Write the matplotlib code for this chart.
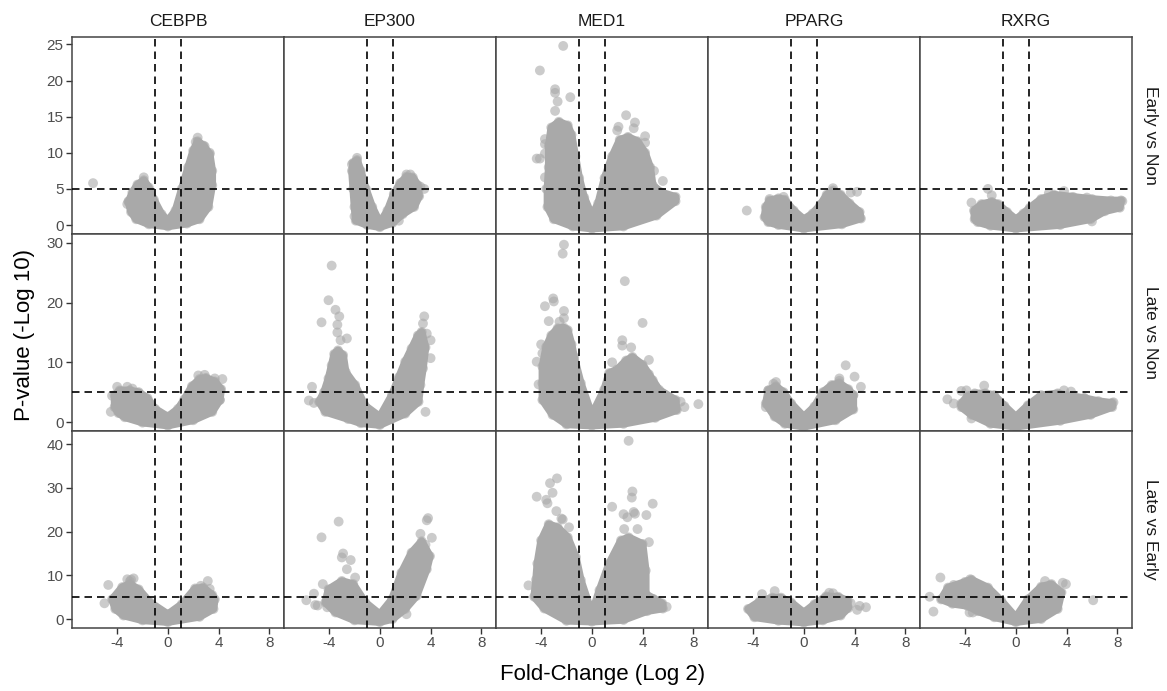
import matplotlib
matplotlib.use("Agg")
import matplotlib.pyplot as plt

plt.rcParams['font.family'] = ['Liberation Sans', 'DejaVu Sans']

genes = ['CEBPB', 'EP300', 'MED1', 'PPARG', 'RXRG']
contrasts = ['Early vs Non', 'Late vs Non', 'Late vs Early']
y_ticks = [[0, 5, 10, 15, 20, 25], [0, 10, 20, 30], [0, 10, 20, 30, 40]]
y_limits = [(-1.24, 26.04), (-1.5, 31.5), (-2.05, 43.05)]
x_ticks = [-4, 0, 4, 8]
fc_cut = 1
p_cut = 5

# dense part of each cloud (outline) + the loose points
# ---- Early vs Non
cebpb_early_cloud_x = [-2.9, -3.1, -2.8, -2.4, -1.9, -1.5, -1.1, -0.5, 0.0, 0.6, 1.1, 1.6, 2.0, 2.35, 2.8, 3.3, 3.5, 3.5, 3.2, 2.5, 1.5, 0.0, -1.5, -2.5]
cebpb_early_cloud_y = [1.8, 3.2, 4.5, 5.6, 6.2, 5.2, 3.5, 1.5, 0.6, 2.0, 5.0, 8.0, 10.3, 11.6, 11.0, 9.8, 7.5, 5.5, 2.5, 0.8, 0.2, -0.2, 0.1, 0.8]
cebpb_early_pts_x = [-5.9, 2.35, 2.6, 2.9, 3.3, -1.9, -3.1, -3.2, 2.2]
cebpb_early_pts_y = [5.8, 12.1, 11.0, 10.9, 10.0, 6.6, 3.3, 2.9, 11.5]

ep300_early_cloud_x = [-1.9, -2.0, -2.1, -2.2, -2.1, -1.8, -1.5, -1.1, -0.6, 0.0, 0.6, 1.1, 1.6, 2.1, 2.6, 3.0, 3.1, 2.7, 1.8, 1.0, 0.0, -1.0]
ep300_early_cloud_y = [0.6, 2.5, 5.0, 7.5, 8.6, 9.0, 7.5, 5.0, 2.5, 0.3, 2.0, 4.3, 5.8, 6.7, 6.6, 5.5, 4.0, 2.5, 1.5, 0.3, -0.3, 0.0]
ep300_early_pts_x = [-1.8, -2.2, 3.5, 1.5, 2.4, 2.1, -2.0, 3.2]
ep300_early_pts_y = [9.3, 8.4, 5.0, 0.6, 7.0, 7.0, 1.2, 5.3]

med1_early_cloud_x = [-3.0, -3.5, -3.5, -3.4, -3.4, -3.2, -2.6, -1.9, -1.6, -1.3, -1.0, -0.6, 0.0, 0.5, 1.0, 1.6, 2.2, 2.85, 3.6, 4.2, 4.6, 4.8, 5.5, 6.6, 6.6, 5.1, 2.5, 0.0, -1.5]
med1_early_cloud_y = [0.8, 2.5, 5.0, 8.0, 11.0, 13.5, 14.3, 13.8, 12.5, 9.5, 6.5, 3.8, 1.3, 3.0, 6.5, 9.5, 11.8, 12.2, 11.6, 10.0, 8.0, 5.5, 4.5, 3.9, 3.3, 1.3, -0.2, -0.5, -0.2]
med1_early_pts_x = [-2.26, -4.1, -2.9, -2.9, -2.7, -1.7, -2.9, -3.7, -3.7, -4.35, -4.1, -3.7, -3.7, -3.6, -2.9, 2.7, 3.4, 3.3, 2.0, 2.1, 4.2, 4.2, 5.6, 4.9, -3.0]
med1_early_pts_y = [24.8, 21.4, 18.8, 18.3, 17.1, 17.7, 15.8, 11.9, 11.2, 9.2, 9.2, 9.9, 6.6, 5.0, 1.8, 15.2, 14.2, 13.4, 13.1, 13.6, 12.3, 11.4, 6.1, 7.5, 12.5]

pparg_early_cloud_x = [-3.1, -3.0, -2.7, -2.0, -1.5, -0.8, 0.0, 0.7, 1.3, 1.8, 2.3, 2.9, 3.6, 4.4, 4.5, 3.0, 0.0, -2.0, -2.8]
pparg_early_cloud_y = [1.1, 2.5, 3.4, 3.7, 3.5, 2.0, 0.8, 1.6, 2.8, 4.2, 4.8, 4.2, 3.0, 1.8, 0.9, 0.1, -0.5, 0.0, 0.4]
pparg_early_pts_x = [-4.5, 2.3, 3.7, 4.2, -2.7, -1.6]
pparg_early_pts_y = [2.0, 5.1, 4.5, 4.6, 3.6, 3.9]

rxrg_early_cloud_x = [-3.25, -3.3, -2.7, -1.9, -1.4, -0.7, 0.0, 0.6, 1.1, 2.0, 3.0, 4.5, 6.0, 7.5, 8.3, 8.2, 7.0, 5.9, 3.5, 0.0, -2.0, -3.0]
rxrg_early_cloud_y = [0.8, 2.0, 2.9, 3.2, 2.9, 1.8, 0.8, 1.6, 2.4, 3.6, 4.2, 3.9, 3.6, 3.4, 3.4, 2.4, 1.9, 0.8, 0.0, -0.5, -0.1, 0.4]
rxrg_early_pts_x = [-3.5, -2.2, -1.9, 3.8, 5.6, 6.0, 8.4, 2.6]
rxrg_early_pts_y = [3.1, 5.0, 4.1, 4.7, 3.8, 0.5, 3.3, 4.4]

# ---- Late vs Non
cebpb_late_cloud_x = [-4.2, -4.2, -3.8, -3.0, -2.3, -1.6, -1.0, 0.0, 0.8, 1.3, 1.9, 2.5, 3.0, 3.7, 4.2, 4.1, 3.5, 2.0, 0.0, -2.0, -3.4, -3.9]
cebpb_late_cloud_y = [2.5, 4.5, 5.3, 5.3, 5.0, 4.0, 2.2, 0.9, 2.2, 3.8, 6.0, 7.2, 7.4, 6.8, 5.5, 3.7, 1.7, 0.3, -0.6, -0.1, 0.8, 1.5]
cebpb_late_pts_x = [-4.5, -4.0, -3.2, -4.4, 2.4, 2.9, 3.7, 4.3, 4.1, -2.8]
cebpb_late_pts_y = [1.7, 5.9, 5.9, 4.4, 7.8, 7.9, 7.3, 7.2, 3.7, 5.6]

ep300_late_cloud_x = [-2.5, -4.3, -4.8, -4.4, -4.05, -3.8, -3.6, -3.3, -2.9, -2.7, -1.95, -1.2, 0.0, 0.95, 1.5, 2.0, 2.5, 3.0, 3.3, 3.6, 3.4, 3.2, 3.05, 2.0, 0.0, -1.5]
ep300_late_cloud_y = [0.5, 1.7, 3.4, 5.0, 7.3, 9.5, 11.4, 12.0, 11.2, 8.4, 6.2, 2.8, 0.9, 4.5, 7.5, 10.1, 12.3, 14.5, 15.1, 12.5, 9.0, 6.2, 3.4, 1.4, -0.5, -0.2]
ep300_late_pts_x = [-3.8, -4.05, -4.6, -3.5, -3.2, -3.35, -3.35, -2.6, -3.1, -5.35, -5.6, -5.2, 3.6, 4.0, 4.0, 3.5, 3.4, 3.7, -2.0]
ep300_late_pts_y = [26.2, 20.4, 16.7, 18.8, 17.7, 16.3, 15.0, 14.0, 13.7, 5.9, 3.6, 3.2, 1.7, 13.7, 10.7, 17.7, 16.5, 14.8, 1.0]

med1_late_cloud_x = [-3.1, -3.9, -3.9, -3.9, -3.6, -3.2, -2.7, -2.2, -1.9, -1.6, -1.4, -0.87, 0.0, 0.97, 1.36, 2.0, 2.7, 3.2, 4.0, 4.5, 5.3, 6.6, 6.7, 5.0, 2.5, 0.0, -2.0]
med1_late_cloud_y = [1.2, 3.7, 6.5, 9.3, 12.6, 14.5, 15.7, 15.8, 15.4, 13.0, 10.9, 6.5, 1.2, 5.4, 8.2, 8.8, 10.3, 10.9, 9.6, 8.0, 5.4, 3.7, 2.0, 0.7, -0.3, -0.6, -0.4]
med1_late_pts_x = [-2.2, -2.3, 2.6, -3.05, -3.7, -3.0, -2.2, -3.4, -2.55, 4.0, 2.4, 2.4, 3.1, -4.35, -4.2, 4.5, 4.8, 8.4, 7.3, 7.0, 1.6, -4.0, -3.9, -2.2]
med1_late_pts_y = [29.7, 28.2, 23.6, 20.7, 19.4, 20.2, 18.6, 16.9, 16.8, 16.6, 13.7, 12.8, 12.5, 10.1, 6.3, 10.4, 7.0, 3.0, 2.5, 3.4, 10.0, 13.0, 11.5, 17.4]

pparg_late_cloud_x = [-2.3, -3.0, -2.8, -2.2, -1.6, -1.0, 0.0, 0.84, 1.5, 2.2, 2.8, 3.5, 3.9, 3.9, 2.5, 0.0, -1.5]
pparg_late_cloud_y = [0.9, 3.1, 5.3, 6.0, 5.0, 3.1, 0.9, 2.6, 5.0, 6.2, 6.5, 5.5, 4.5, 2.1, 0.3, -0.8, -0.3]
pparg_late_pts_x = [-2.2, -2.8, 4.0, 3.3, 4.5, 2.8, 2.8, 3.9, -3.0, -2.4]
pparg_late_pts_y = [6.7, 5.3, 7.6, 9.5, 5.9, 7.3, 6.9, 4.5, 2.5, 6.4]

rxrg_late_cloud_x = [-3.5, -4.3, -4.3, -3.8, -3.25, -2.4, -1.7, -0.9, 0.0, 0.95, 2.0, 3.3, 4.5, 5.4, 6.5, 7.6, 7.6, 5.9, 3.5, 0.0, -2.0]
rxrg_late_cloud_y = [1.2, 2.5, 3.1, 4.4, 4.8, 4.8, 4.5, 2.7, 0.9, 2.8, 4.5, 4.8, 4.3, 4.0, 3.5, 3.2, 2.5, 1.2, 0.2, -0.8, -0.3]
rxrg_late_pts_x = [-5.4, -4.9, -4.3, -3.9, -2.5, -3.5, 4.35, 5.4, 7.7, 3.8]
rxrg_late_pts_y = [3.8, 3.1, 5.2, 5.3, 6.1, 0.6, 5.1, 4.0, 3.3, 5.3]

# ---- Late vs Early
cebpb_le_cloud_x = [-4.15, -4.4, -3.6, -3.0, -2.3, -1.4, 0.0, 1.1, 2.15, 2.8, 3.5, 3.7, 3.6, 2.5, 0.0, -2.0, -3.5]
cebpb_le_cloud_y = [2.3, 4.5, 7.3, 8.0, 6.8, 3.8, 1.1, 3.4, 7.0, 7.2, 5.5, 4.5, 2.3, 0.5, -0.7, -0.3, 0.8]
cebpb_le_pts_x = [-4.7, -5.0, -3.2, -2.7, -3.0, 3.15, 3.3, 2.6, -2.9]
cebpb_le_pts_y = [7.8, 3.6, 9.1, 9.3, 8.6, 8.7, 6.9, 7.6, 9.0]

ep300_le_cloud_x = [-3.5, -4.3, -4.05, -3.0, -2.1, -1.15, 0.0, 0.95, 1.7, 2.5, 3.3, 3.95, 3.7, 2.9, 2.0, 1.0, 0.0, -2.0]
ep300_le_cloud_y = [1.5, 3.8, 6.8, 8.7, 8.0, 3.8, 1.1, 4.5, 10.6, 15.2, 17.8, 14.4, 11.4, 5.3, 2.3, 0.0, -0.7, -0.3]
ep300_le_pts_x = [-3.25, -4.6, -2.9, -3.0, -2.3, -2.6, -1.95, -4.5, -5.2, -5.8, -5.1, -4.9, -4.15, 3.8, 3.7, 3.2, 4.1, 2.1, 3.6]
ep300_le_pts_y = [22.3, 18.7, 15.0, 14.1, 13.5, 11.4, 9.5, 8.0, 5.8, 4.3, 3.2, 3.1, 2.7, 23.1, 22.6, 19.5, 18.6, 1.1, 17.0]

med1_le_cloud_x = [-3.75, -4.55, -4.4, -4.3, -4.0, -3.4, -2.7, -1.9, -1.26, -0.87, 0.0, 0.6, 1.36, 2.3, 2.9, 4.0, 4.25, 4.25, 5.55, 5.6, 4.35, 2.5, 0.0, -2.0]
med1_le_cloud_y = [2.4, 5.1, 9.0, 12.7, 18.0, 21.7, 21.0, 18.7, 14.2, 8.9, 1.3, 6.6, 12.7, 18.0, 18.7, 17.2, 11.1, 5.7, 3.6, 2.4, 1.8, -0.2, -0.6, -0.4]
med1_le_pts_x = [2.9, -2.75, -3.3, -3.1, -4.35, -3.6, -3.5, 3.2, 3.15, 4.8, 1.6, 3.3, 4.3, 2.5, 2.8, 3.4, 2.55, 3.6, 4.5, -5.0, 4.85, 5.9, -2.8, -2.3, -1.8, -2.4]
med1_le_pts_y = [40.8, 32.2, 31.1, 28.9, 28.0, 27.3, 26.5, 29.2, 27.8, 26.4, 25.7, 24.5, 23.8, 24.0, 23.3, 24.1, 20.6, 20.6, 17.6, 7.7, 4.6, 2.8, 24.7, 22.8, 21.0, 23.0]

pparg_le_cloud_x = [-3.9, -4.4, -3.5, -2.5, -1.8, -1.0, 0.0, 0.84, 1.75, 2.7, 3.45, 3.5, 2.9, 1.5, 0.0, -2.0]
pparg_le_cloud_y = [0.4, 2.3, 4.0, 4.9, 4.9, 3.8, 1.5, 3.4, 5.2, 5.1, 4.2, 2.5, 0.8, -0.3, -0.8, -0.4]
pparg_le_pts_x = [-2.3, -3.3, 4.9, 4.2, 3.7, 4.4, 2.0, 2.3]
pparg_le_pts_y = [6.4, 5.7, 2.7, 2.1, 3.6, 3.0, 6.0, 5.9]

rxrg_le_cloud_x = [-3.8, -5.0, -5.9, -5.35, -4.0, -3.5, -2.2, -1.15, 0.0, 0.95, 2.0, 2.8, 3.6, 3.3, 2.0, 0.0, -1.7, -3.0]
rxrg_le_cloud_y = [3.0, 3.5, 4.5, 7.2, 8.5, 9.0, 7.2, 4.2, 0.4, 4.5, 7.4, 8.0, 6.1, 2.3, 0.0, -0.7, 0.4, 1.8]
rxrg_le_pts_x = [-5.95, -6.8, -6.5, -3.65, -3.4, 6.1, 2.3, 3.95, 3.7, -4.9, -3.6]
rxrg_le_pts_y = [9.5, 5.1, 1.7, 1.5, 1.5, 4.3, 8.7, 8.0, 8.3, 7.8, 9.1]

panels = [
    [(cebpb_early_cloud_x, cebpb_early_cloud_y, cebpb_early_pts_x, cebpb_early_pts_y),
     (ep300_early_cloud_x, ep300_early_cloud_y, ep300_early_pts_x, ep300_early_pts_y),
     (med1_early_cloud_x, med1_early_cloud_y, med1_early_pts_x, med1_early_pts_y),
     (pparg_early_cloud_x, pparg_early_cloud_y, pparg_early_pts_x, pparg_early_pts_y),
     (rxrg_early_cloud_x, rxrg_early_cloud_y, rxrg_early_pts_x, rxrg_early_pts_y)],
    [(cebpb_late_cloud_x, cebpb_late_cloud_y, cebpb_late_pts_x, cebpb_late_pts_y),
     (ep300_late_cloud_x, ep300_late_cloud_y, ep300_late_pts_x, ep300_late_pts_y),
     (med1_late_cloud_x, med1_late_cloud_y, med1_late_pts_x, med1_late_pts_y),
     (pparg_late_cloud_x, pparg_late_cloud_y, pparg_late_pts_x, pparg_late_pts_y),
     (rxrg_late_cloud_x, rxrg_late_cloud_y, rxrg_late_pts_x, rxrg_late_pts_y)],
    [(cebpb_le_cloud_x, cebpb_le_cloud_y, cebpb_le_pts_x, cebpb_le_pts_y),
     (ep300_le_cloud_x, ep300_le_cloud_y, ep300_le_pts_x, ep300_le_pts_y),
     (med1_le_cloud_x, med1_le_cloud_y, med1_le_pts_x, med1_le_pts_y),
     (pparg_le_cloud_x, pparg_le_cloud_y, pparg_le_pts_x, pparg_le_pts_y),
     (rxrg_le_cloud_x, rxrg_le_cloud_y, rxrg_le_pts_x, rxrg_le_pts_y)],
]

pt_color = '#a9a9a9'
frame_color = '#444444'
text_grey = '#4d4d4d'

fig, axes = plt.subplots(3, 5, figsize=(11.67, 6.91), dpi=100)
fig.subplots_adjust(left=0.0617, right=0.970, top=0.9465, bottom=0.0912, wspace=0, hspace=0)

for r in range(3):
    for c in range(5):
        ax = axes[r, c]
        cx, cy, px, py = panels[r][c]
        # dense core of the cloud, thick rounded edge ~ one point radius
        ax.fill(cx, cy, color=pt_color, ec=pt_color, lw=5.5, joinstyle='round', zorder=2)
        ax.scatter(cx, cy, s=50, color=pt_color, alpha=0.6, edgecolors='none', zorder=2)
        ax.scatter(px, py, s=50, color=pt_color, alpha=0.6, edgecolors='none', zorder=3)
        for v in (-fc_cut, fc_cut):
            ax.axvline(v, color='black', lw=1.2, ls=(0, (4.5, 3)), zorder=4)
        ax.axhline(p_cut, color='black', lw=1.2, ls=(0, (4.5, 3)), zorder=4)

        ax.set_xlim(-7.56, 9.16)
        ax.set_ylim(*y_limits[r])
        ax.set_xticks(x_ticks)
        ax.set_yticks(y_ticks[r])
        for s in ax.spines.values():
            s.set_color(frame_color)
            s.set_linewidth(1.1)
        ax.tick_params(direction='out', length=4, width=1, color='#333333',
                       labelsize=11, labelcolor=text_grey, pad=2)
        if c != 0:
            ax.tick_params(axis='y', left=False, labelleft=False)
        if r != 2:
            ax.tick_params(axis='x', bottom=False, labelbottom=False)
        ax.set_xticklabels([str(t) for t in x_ticks])
        if r == 0:
            ax.set_title(genes[c], fontsize=12.5, pad=8, color='#1a1a1a')
        if c == 4:
            ax.text(1.085, 0.5, contrasts[r], transform=ax.transAxes, rotation=270,
                    ha='center', va='center', fontsize=12.5, color='#1a1a1a')

fig.supxlabel('Fold-Change (Log 2)', fontsize=16, x=0.516, y=0.008)
fig.supylabel('P-value (-Log 10)', fontsize=16, x=0.012, y=0.515)

fig.savefig('out.png', dpi=100)
